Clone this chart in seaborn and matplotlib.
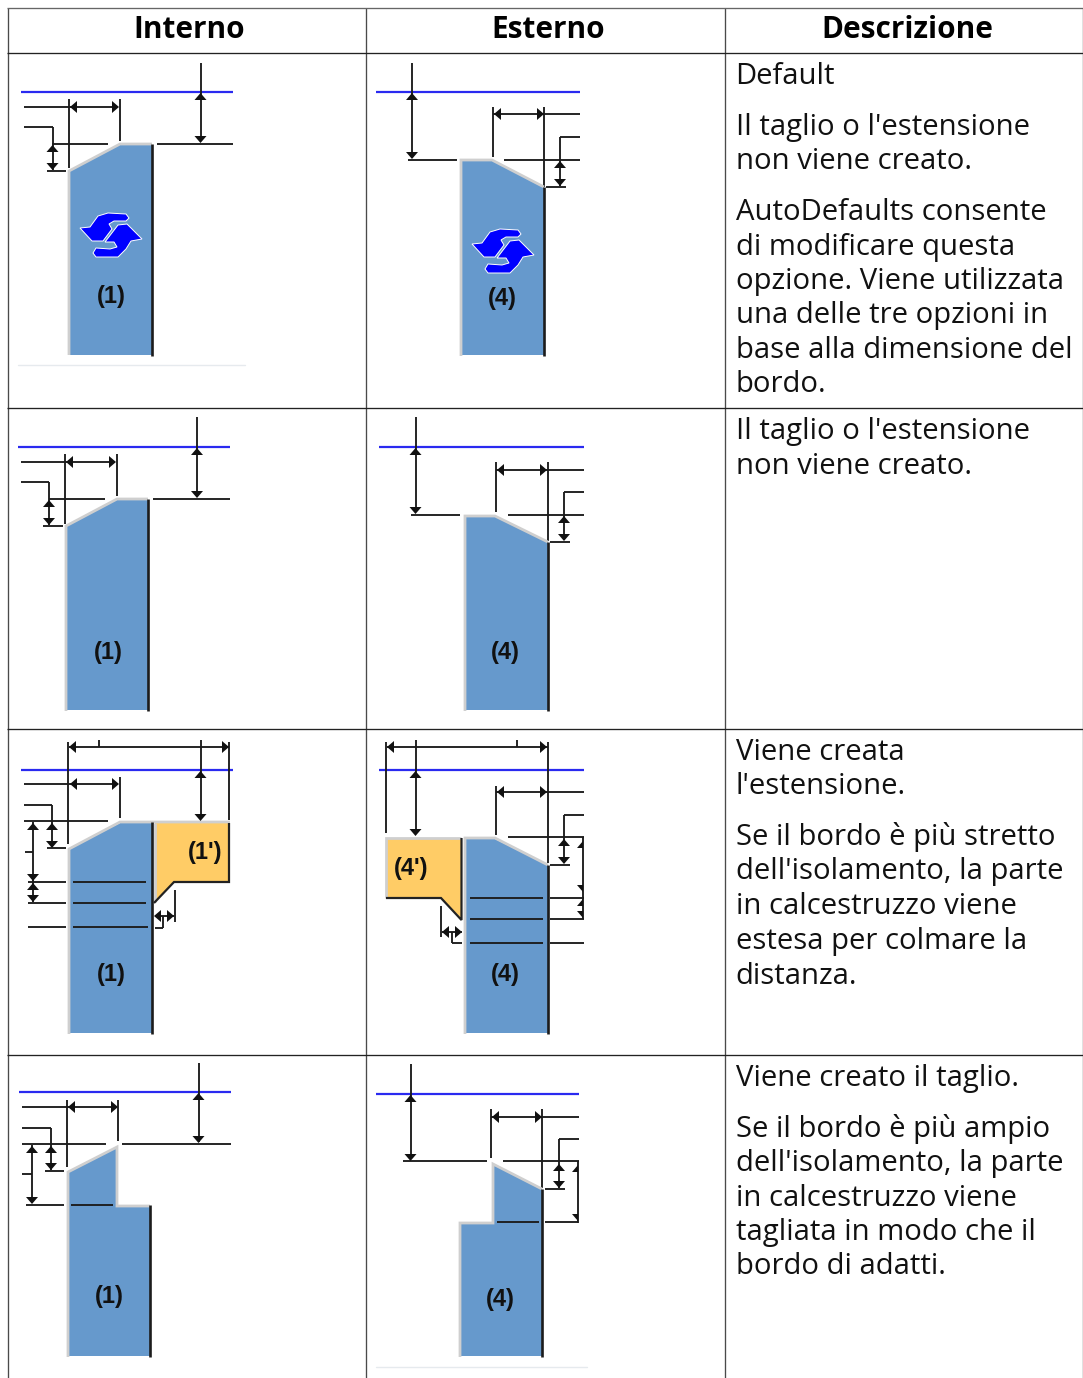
import pandas as pd
import matplotlib
matplotlib.use("Agg")
import matplotlib.pyplot as plt
import seaborn as sns

# all coordinates are reference pixels
headers = ["Interno", "Esterno", "Descrizione"]
header_x = [189, 548, 907]
col_lines = [7.5, 366, 724.5, 1082.5]
row_lines = [8, 53, 408, 729, 1055]

desc_text = [
    "Default", "Il taglio o l'estensione", "non viene creato.",
    "AutoDefaults consente", "di modificare questa", "opzione. Viene utilizzata",
    "una delle tre opzioni in", "base alla dimensione del", "bordo.",
    "Il taglio o l'estensione", "non viene creato.",
    "Viene creata", "l'estensione.",
    "Se il bordo è più stretto", "dell'isolamento, la parte", "in calcestruzzo viene",
    "estesa per colmare la", "distanza.",
    "Viene creato il taglio.",
    "Se il bordo è più ampio", "dell'isolamento, la parte", "in calcestruzzo viene",
    "tagliata in modo che il", "bordo di adatti.",
]
desc_base = [83.5, 135, 169, 220, 254.5, 289, 323.5, 358, 392.5,
             439, 473.5,
             760, 794.5, 845, 879.5, 914, 949, 983.5,
             1086, 1137, 1171, 1205.5, 1240, 1274.5]

# diagram 1
blue_1 = (21, 233, 92)
seg_1 = [(200.5, 63, 200.5, 141), (157, 143.5, 233, 143.5), (24, 107, 118, 107), (68.5, 99, 68.5, 168),
         (120, 99, 120, 141), (24, 127, 52.5, 127), (52.5, 127, 52.5, 170), (47, 171, 66, 171), (52, 143.5, 108, 143.5)]
tips_1 = [(200.5, 93, "u"), (200.5, 143, "d"), (70, 107, "l"), (119, 107, "r"), (52.5, 145, "u"), (52.5, 170, "d")]
body_1 = [(69, 171), (120, 144), (152, 144), (152, 355), (69, 355)]
edge_1 = [(69, 355), (69, 171), (120, 144), (152, 144)]
dark_1 = [(152, 144), (152, 356)]
tag_1 = ("(1)", 111, 296.5)
# diagram 2
blue_2 = (376, 580, 92)
seg_2 = [(412, 63, 412, 157), (408, 159.5, 457, 159.5), (504, 159.5, 580, 159.5), (493, 107, 493, 157),
         (544, 107, 544, 187), (493, 114, 580, 114), (580, 137, 560, 137), (560, 137, 560, 186), (546, 187, 566, 187)]
tips_2 = [(412, 93, "u"), (412, 159, "d"), (494, 114, "l"), (544, 114, "r"), (560, 161, "u"), (560, 186, "d")]
body_2 = [(461, 160), (492, 160), (544, 187), (544, 355), (461, 355)]
edge_2 = [(461, 356), (461, 160), (492, 160), (544, 187)]
dark_2 = [(544, 187), (544, 356)]
tag_2 = ("(4)", 502, 298)
# diagram 3
blue_3 = (18, 230, 447)
seg_3 = [(197, 417, 197, 496), (153, 498.5, 230, 498.5), (21, 462, 115, 462), (65, 454, 65, 524),
         (116.5, 454, 116.5, 496), (21, 482, 49, 482), (49, 482, 49, 525), (43, 526, 63, 526), (49, 498.5, 105, 498.5)]
tips_3 = [(197, 448, "u"), (197, 498, "d"), (66, 462, "l"), (116, 462, "r"), (49, 500, "u"), (49, 525, "d")]
body_3 = [(66, 526), (117, 499), (148, 499), (148, 710), (66, 710)]
edge_3 = [(66, 711), (66, 526), (117, 499), (148, 499)]
dark_3 = [(148, 499), (148, 711)]
tag_3 = ("(1)", 108, 652)
# diagram 4
blue_4 = (379, 584, 447)
seg_4 = [(415.5, 417, 415.5, 512), (411, 514.5, 460, 514.5), (508, 514.5, 584, 514.5), (496, 462, 496, 512),
         (548, 462, 548, 541), (496, 470, 584, 470), (584, 492, 564, 492), (564, 492, 564, 540), (550, 542, 570, 542)]
tips_4 = [(415.5, 448, "u"), (415.5, 514, "d"), (497, 470, "l"), (547, 470, "r"), (564, 516, "u"), (564, 541, "d")]
body_4 = [(465, 516), (495, 516), (548, 542), (548, 710), (465, 710)]
edge_4 = [(465, 711), (465, 516), (495, 516), (548, 542)]
dark_4 = [(548, 542), (548, 711)]
tag_4 = ("(4)", 505, 653)
# diagram 5
blue_5 = (21, 233, 770)
seg_5 = [(69, 747, 229, 747), (200.5, 740, 200.5, 818), (99, 740, 99, 747), (68, 742, 68, 844), (229, 742, 229, 820),
         (24, 784, 118, 784), (120, 777, 120, 818), (24, 805, 52, 805), (52, 805, 52, 847), (47, 848, 66, 848),
         (24, 821, 108, 821), (33, 822, 33, 902), (25, 852, 33, 852),
         (28, 882, 66, 882), (73, 882, 146, 882), (28, 903, 66, 903), (73, 903, 146, 903),
         (28, 927, 66, 927), (73, 927, 148, 927), (155, 916, 174, 916), (174.7, 890, 174.7, 922),
         (163, 916, 163, 928), (155, 928, 163, 928)]
tips_5 = [(69, 747, "l"), (229, 747, "r"), (200.5, 771, "u"), (200.5, 821, "d"), (70, 784, "l"), (119, 784, "r"),
          (52, 823, "u"), (52, 848, "d"), (33, 823, "u"), (33, 881, "d"), (33, 883, "u"), (33, 902, "d"),
          (154, 916, "l"), (174, 916, "r")]
body_5 = [(69, 849), (120, 823), (152, 823), (152, 1033), (69, 1033)]
edge_5 = [(69, 1034), (69, 849), (120, 822), (152, 822), (230, 822)]
dark_5 = [(152, 822), (152, 1034)]
tag_5 = ("(1)", 111, 974)
fill_5 = [(155, 823), (229, 823), (229, 882), (174, 882), (155, 902)]
fill_edge_5 = [(155, 902), (155, 823)]
fill_dark_5 = [(229, 823), (229, 882), (174, 882), (154, 903)]
fill_tag_5 = ("(1')", 205, 852)
# diagram 6
blue_6 = (379, 584, 770)
seg_6 = [(387, 747, 548, 747), (386, 742, 386, 833), (548, 742, 548, 863), (415.5, 740, 415.5, 834), (517, 740, 517, 747),
         (496, 792, 584, 792), (496, 786, 496, 835), (564, 815, 584, 815), (564, 815, 564, 863), (550, 864.5, 570, 864.5),
         (508, 837, 584, 837), (583, 837, 583, 919),
         (550, 898, 584, 898), (470, 898, 543, 898), (550, 919, 584, 919), (470, 919, 543, 919),
         (550, 943, 584, 943), (470, 943, 543, 943), (441, 906, 441, 937), (442, 932, 462, 932),
         (452, 932, 452, 943), (452, 943, 462, 943)]
tips_6 = [(387, 747, "l"), (547, 747, "r"), (415.5, 771, "u"), (415.5, 836, "d"), (497, 792, "l"), (547, 792, "r"),
          (564, 839, "u"), (564, 864, "d"), (442, 932, "l"), (462, 932, "r"),
          (583, 841, "hu"), (583, 892, "hd"), (583, 899, "hu"), (583, 918, "hd")]
body_6 = [(466, 839), (495, 839), (548, 865), (548, 1033), (466, 1033)]
edge_6 = [(465, 1034), (465, 838), (495, 838), (548, 865)]
dark_6 = [(548, 865), (548, 1034)]
tag_6 = ("(4)", 505, 975)
fill_6 = [(387, 838), (461, 838), (461, 918), (441, 898), (387, 898)]
fill_edge_6 = [(386, 898), (386, 838), (461, 838)]
fill_dark_6 = [(461.5, 838), (461.5, 920), (441, 898), (386, 898)]
fill_tag_6 = ("(4')", 411, 868)
# diagram 7
blue_7 = (19, 231, 1092)
seg_7 = [(198.5, 1063, 198.5, 1142), (122, 1144, 231, 1144), (22, 1107, 117, 1107), (67, 1100, 67, 1167), (118, 1100, 118, 1141),
         (22, 1128, 51, 1128), (51, 1128, 51, 1170), (45, 1171, 64, 1171), (22, 1144, 106, 1144), (32, 1145, 32, 1203),
         (22, 1174, 32, 1174), (26, 1205, 64, 1205), (71, 1205, 113, 1205)]
tips_7 = [(198.5, 1093, "u"), (198.5, 1143, "d"), (68, 1107, "l"), (118, 1107, "r"), (51, 1146, "u"), (51, 1170, "d"),
          (32, 1146, "u"), (32, 1204, "d")]
body_7 = [(68, 1172), (117, 1147), (117, 1206), (150, 1206), (150, 1356), (68, 1356)]
edge_7 = [(68, 1357), (68, 1172), (117, 1147), (117, 1206), (150, 1206)]
dark_7 = [(150, 1205), (150, 1357)]
tag_7 = ("(1)", 109.5, 1297)
# diagram 8
blue_8 = (376, 579, 1094)
seg_8 = [(410.5, 1064, 410.5, 1159), (403, 1161, 487, 1161), (503, 1161, 579, 1161), (491, 1117, 579, 1117), (491, 1109, 491, 1158),
         (542, 1109, 542, 1188), (559, 1139, 579, 1139), (559, 1139, 559, 1188), (545, 1189, 565, 1189), (578, 1161, 578, 1223),
         (545, 1222, 578, 1222), (497, 1222, 539, 1222)]
tips_8 = [(410.5, 1095, "u"), (410.5, 1161, "d"), (492, 1117, "l"), (542, 1117, "r"), (559, 1164, "u"), (559, 1188, "d"),
          (578, 1165, "hu"), (578, 1221, "hd")]
body_8 = [(494, 1165), (542, 1189), (542, 1356), (461, 1356), (461, 1224), (494, 1224)]
edge_8 = [(460, 1357), (460, 1223), (493, 1223), (493, 1164), (542, 1189)]
dark_8 = [(542, 1189), (542, 1357)]
tag_8 = ("(4)", 500, 1299.5)

faint_rules = [(18, 245, 365), (376, 587, 1367)]
icon_centers = [(111, 235), (503, 251)]
icon_a = [(-31, -7), (-21, -8), (-13, -19), (-3, -22), (15, -21), (18, -17), (15, -14), (3, -14), (-2, -11), (1, -6), (-8, 6), (-19, 6)]
icon_b = [(31, 4), (16, -11), (7, -10), (-6, 7), (3, 7), (6, 12), (-1, 14), (-15, 13), (-18, 18), (-15, 22), (7, 22), (15, 14), (20, 6)]

BODY = "#6699cc"
FILL = "#ffcc66"
EDGE = "#cfcfcf"
DARK = "#1c1c1c"

sns.set_theme(style="white")
plt.rcParams["font.family"] = ["Open Sans", "DejaVu Sans"]

fig, ax = plt.subplots(figsize=(10.83, 13.78), dpi=100)
fig.subplots_adjust(0, 0, 1, 1)


def draw_segments(segs, color=DARK, lw=1.35, z=3):
    rows = []
    for i, (x0, y0, x1, y1) in enumerate(segs):
        rows.append({"seg": i, "step": 0, "x": x0, "y": y0})
        rows.append({"seg": i, "step": 1, "x": x1, "y": y1})
    sns.lineplot(data=pd.DataFrame(rows), x="x", y="y", units="seg", estimator=None, sort=False,
                 color=color, linewidth=lw, legend=False, ax=ax, zorder=z, solid_capstyle="butt")


def draw_path(pts, color, lw):
    xs, ys = zip(*pts)
    ax.plot(xs, ys, color=color, lw=lw, zorder=4, solid_joinstyle="miter", solid_capstyle="butt")


def draw_tip(x, y, kind):
    w, h = 6, 7
    shapes = {
        "u": [(x, y), (x - w, y + h), (x + w, y + h)],
        "d": [(x, y), (x - w, y - h), (x + w, y - h)],
        "l": [(x, y), (x + h, y - w), (x + h, y + w)],
        "r": [(x, y), (x - h, y - w), (x - h, y + w)],
        "hu": [(x, y), (x - w, y + h), (x, y + h)],
        "hd": [(x, y), (x - w, y - h), (x, y - h)],
    }
    ax.fill(*zip(*shapes[kind]), color="#111111", lw=0, zorder=5)


def draw_tag(tag):
    ax.text(tag[1], tag[2], tag[0], fontfamily="Liberation Sans", fontweight="bold", fontsize=17,
            color="#111111", ha="center", va="center", zorder=6)


diagrams = [
    (blue_1, seg_1, tips_1, body_1, edge_1, dark_1, tag_1),
    (blue_2, seg_2, tips_2, body_2, edge_2, dark_2, tag_2),
    (blue_3, seg_3, tips_3, body_3, edge_3, dark_3, tag_3),
    (blue_4, seg_4, tips_4, body_4, edge_4, dark_4, tag_4),
    (blue_5, seg_5, tips_5, body_5, edge_5, dark_5, tag_5),
    (blue_6, seg_6, tips_6, body_6, edge_6, dark_6, tag_6),
    (blue_7, seg_7, tips_7, body_7, edge_7, dark_7, tag_7),
    (blue_8, seg_8, tips_8, body_8, edge_8, dark_8, tag_8),
]

for blue, segs, tips, body, edge, dark, tag in diagrams:
    ax.fill(*zip(*body), color=BODY, lw=0, zorder=2)
    ax.plot(blue[:2], [blue[2], blue[2]], color="#2a2af0", lw=1.6, zorder=3, solid_capstyle="butt")
    draw_segments(segs)
    draw_path(edge, EDGE, 2.0)
    draw_path(dark, DARK, 1.9)
    for x, y, kind in tips:
        draw_tip(x, y, kind)
    draw_tag(tag)

# orange extension pieces
for fill, fill_edge, fill_dark, fill_tag in [(fill_5, fill_edge_5, fill_dark_5, fill_tag_5),
                                             (fill_6, fill_edge_6, fill_dark_6, fill_tag_6)]:
    ax.fill(*zip(*fill), color=FILL, lw=0, zorder=2)
    draw_path(fill_edge, EDGE, 2.0)
    draw_path(fill_dark, "#222222", 1.6)
    draw_tag(fill_tag)

# autodefault icons
for cx, cy in icon_centers:
    for shape in (icon_a, icon_b):
        ax.fill([cx + p[0] for p in shape], [cy + p[1] for p in shape], facecolor="#0000ff",
                edgecolor="white", lw=0.7, zorder=5)

for x0, x1, y in faint_rules:
    ax.plot([x0, x1], [y, y], color="#e6eaee", lw=1.0, zorder=1)

# table grid
for x in col_lines:
    ax.plot([x, x], [8, 1378], color="#4a4a4a", lw=0.95, zorder=7, solid_capstyle="butt")
for i, y in enumerate(row_lines):
    c = "#666666" if i == 0 else "#222222"
    ax.plot([7, 1083], [y, y], color=c, lw=0.95, zorder=7, solid_capstyle="butt")

for label, x in zip(headers, header_x):
    ax.text(x, 37.5, label, fontsize=21.4, fontweight="bold", color="black", ha="center", va="baseline")
for line, y in zip(desc_text, desc_base):
    ax.text(735.5, y, line, fontsize=21.1, color="#111111", ha="left", va="baseline")

ax.set_xlim(0, 1083)
ax.set_ylim(1378, 0)
ax.axis("off")
fig.savefig("out.png", dpi=100)
